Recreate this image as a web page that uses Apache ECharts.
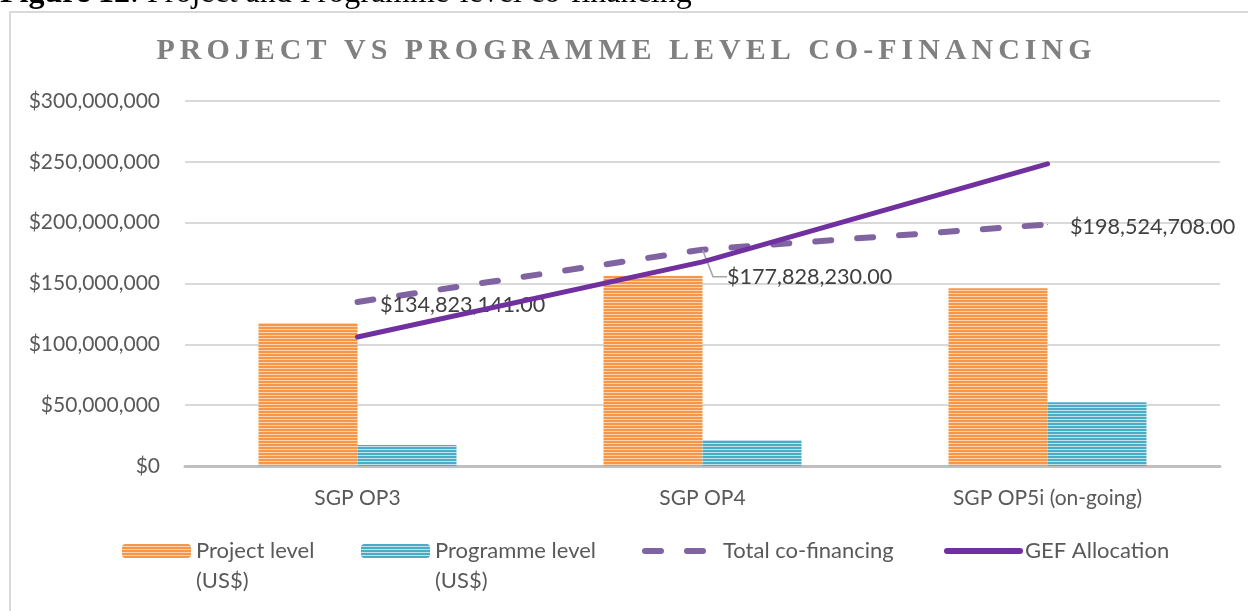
<!DOCTYPE html>
<html>
<head>
<meta charset="utf-8">
<script src="https://cdn.jsdelivr.net/npm/echarts@6/dist/echarts.min.js"></script>
<style>
  html, body { margin: 0; padding: 0; background: #fff; }
  #chart { width: 1248px; height: 611px; }
</style>
</head>
<body>
<div id="chart"></div>
<script>
// ---- data ----
const categories = ['SGP OP3', 'SGP OP4', 'SGP OP5i (on-going)'];
const projectLevel = [117600000, 156400000, 146000000];
const programmeLevel = [17200000, 21400000, 52500000];
const totalCofinancing = [134823141, 177828230, 198524708];
const gefAllocation = [106000000, 167800000, 248400000];
const seriesNames = ['Project level (US$)', 'Programme level (US$)', 'Total co-financing', 'GEF Allocation'];
const legendLabels = ['Project level\n(US$)', 'Programme level\n(US$)', 'Total co-financing', 'GEF Allocation'];
const yTicks = { min: 0, max: 300000000, interval: 50000000 };
const titleText = 'PROJECT VS PROGRAMME LEVEL CO-FINANCING';

function stripe(dark, light) {
  const c = document.createElement('canvas');
  c.width = 4; c.height = 3;
  const ctx = c.getContext('2d');
  ctx.fillStyle = dark; ctx.fillRect(0, 0, 4, 2);
  ctx.fillStyle = light; ctx.fillRect(0, 2, 4, 1);
  return { image: c, repeat: 'repeat' };
}
const orangePat = stripe('#F79646', '#FCD3B0');
const bluePat = stripe('#4BACC6', '#BFE2EB');

function money(v) {
  return '$' + Math.round(v).toString().replace(/\B(?=(\d{3})+(?!\d))/g, ',');
}
function money2(v) {
  return money(v) + '.00';
}
// spaced title via rich text
const spacedTitle = titleText.split('').map(ch => '{c|' + ch + '}').join('{s| }');

const font = 'Lato';
const chart = echarts.init(document.getElementById('chart'), null, { renderer: 'canvas' });

const legendText = { fontFamily: font, fontSize: 22, color: '#595959', lineHeight: 30 };
function legendFor(i, left, top, opts) {
  return Object.assign({
    data: [seriesNames[i]],
    left: left,
    top: top,
    itemGap: 0,
    formatter: (i < 2 ? '\n' : '') + legendLabels[i],
    textStyle: legendText,
    selectedMode: false
  }, opts || {});
}
const lineLegendStyle = { width: 6, cap: 'round' };

// total co-financing points: only the middle label has a leader line
const totalData = totalCofinancing.map((v, i) => i === 1
  ? { value: v, label: { padding: [0, 0, 0, 8] }, labelLine: { show: true } }
  : { value: v });

chart.setOption({
  animation: false,
  textStyle: { fontFamily: font },
  graphic: [
    {
      type: 'rect', silent: true,
      shape: { x: 10, y: 12, width: 1270, height: 640 },
      style: { fill: 'none', stroke: '#D9D9D9', lineWidth: 2 }
    },
    {
      type: 'text', silent: true, left: 0, top: -22,
      style: {
        text: '{b|Figure 12}{n|: Project and Programme-level co-financing}',
        rich: {
          b: { fontFamily: 'Liberation Serif', fontWeight: 'bold', fontSize: 32, fill: '#000' },
          n: { fontFamily: 'Liberation Serif', fontSize: 32, fill: '#000' }
        }
      }
    }
  ],
  title: {
    text: spacedTitle,
    left: 'center',
    top: 31,
    textStyle: {
      rich: {
        c: { fontFamily: 'Liberation Serif', fontWeight: 'bold', fontSize: 30, color: '#808080' },
        s: { fontFamily: 'Liberation Serif', fontSize: 20, color: '#808080' }
      }
    }
  },
  legend: [
    legendFor(0, 117, 501, { itemWidth: 69, itemHeight: 14 }),
    legendFor(1, 356, 501, { itemWidth: 69, itemHeight: 14 }),
    legendFor(2, 637, 531, { itemWidth: 73, itemHeight: 14, itemStyle: { opacity: 0 },
      lineStyle: Object.assign({ type: [16, 26] }, lineLegendStyle) }),
    legendFor(3, 939, 531, { itemWidth: 73, itemHeight: 14, itemStyle: { opacity: 0 },
      lineStyle: Object.assign({}, lineLegendStyle) })
  ],
  grid: { left: 185, right: 28, top: 101, bottom: 145, containLabel: false },
  xAxis: {
    type: 'category',
    data: categories,
    axisLine: { lineStyle: { color: '#BFBFBF', width: 3 } },
    axisTick: { show: false },
    axisLabel: { fontFamily: font, fontSize: 21, color: '#595959', margin: 22 }
  },
  yAxis: {
    type: 'value',
    min: yTicks.min, max: yTicks.max, interval: yTicks.interval,
    axisLine: { show: false },
    axisTick: { show: false },
    splitLine: { lineStyle: { color: '#D9D9D9', width: 2 } },
    axisLabel: { fontFamily: font, fontSize: 21, color: '#595959', margin: 25, formatter: money }
  },
  series: [
    {
      name: seriesNames[0], type: 'bar', data: projectLevel,
      barWidth: 99, barGap: '0%',
      itemStyle: { color: orangePat }
    },
    {
      name: seriesNames[1], type: 'bar', data: programmeLevel,
      barWidth: 99, barGap: '0%',
      itemStyle: { color: bluePat }
    },
    {
      name: seriesNames[2], type: 'line', data: totalData,
      symbol: 'circle', symbolSize: 1, showSymbol: true, z: 5,
      lineStyle: { color: '#8064A2', width: 6, type: [16, 26], cap: 'round' },
      itemStyle: { color: '#8064A2' },
      label: {
        show: true, position: 'right', distance: 22,
        fontFamily: font, fontSize: 21.6, color: '#404040',
        formatter: p => money2(p.value)
      },
      labelLine: { show: false, length2: 14, lineStyle: { color: '#A6A6A6', width: 1.5 } },
      labelLayout: p => p.dataIndex === 1 ? { dx: -6, dy: 27 } : { dy: 3 }
    },
    {
      name: seriesNames[3], type: 'line', data: gefAllocation,
      symbol: 'none', z: 6,
      lineStyle: { color: '#7030A0', width: 5, cap: 'round' },
      itemStyle: { color: '#7030A0' }
    }
  ]
});
</script>
</body>
</html>
